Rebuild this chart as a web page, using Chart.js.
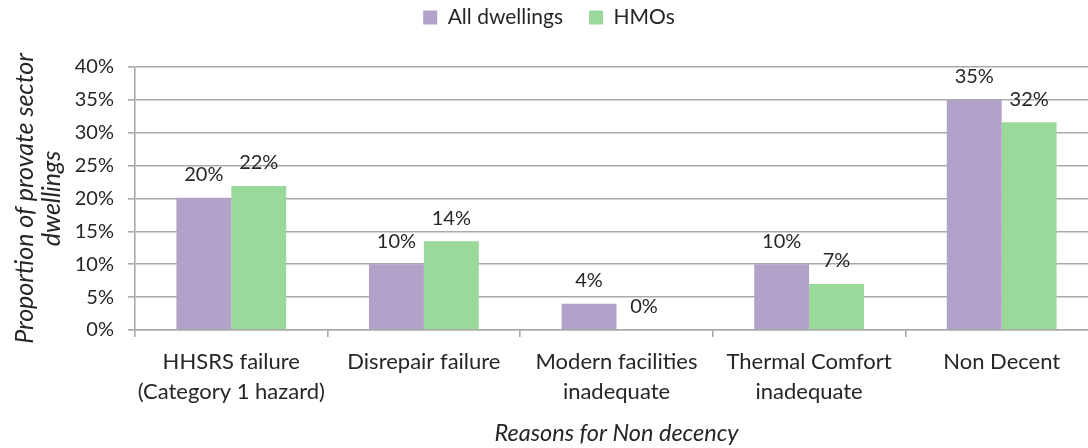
<!DOCTYPE html>
<html><head><meta charset="utf-8">
<script src="https://cdn.jsdelivr.net/npm/chart.js@4/dist/chart.umd.min.js"></script>
<style>html,body{margin:0;padding:0;overflow:hidden;background:#fff}#wrap{width:1098px;height:448px;position:relative}</style>
</head><body><div id="wrap"><canvas id="c"></canvas></div>
<script>
const categories = [["HHSRS failure","(Category 1 hazard)"],"Disrepair failure",["Modern facilities","inadequate"],["Thermal Comfort","inadequate"],"Non Decent"];
const allDwellings = [20.1, 10.0, 4.0, 10.0, 35.0];
const hmos = [21.9, 13.5, 0, 7.0, 31.6];
const seriesNames = ["All dwellings","HMOs"];
const yMin = 0, yMax = 40, yStep = 5;
const yTitle = ["Proportion of provate sector","dwellings"];
const xTitle = "Reasons for Non decency";

const FONT = 'Lato';
const TXT = '#262626';
const GRID = '#a9a9a9';

const barLabels = {
  id:'barLabels',
  afterDatasetsDraw(chart){
    const ctx = chart.ctx; ctx.save();
    ctx.font = '20px ' + FONT; ctx.fillStyle = TXT; ctx.textAlign='center'; ctx.textBaseline='middle';
    chart.data.datasets.forEach((ds,i)=>{
      chart.getDatasetMeta(i).data.forEach((bar,j)=>{
        ctx.fillText(Math.round(ds.data[j]) + '%', bar.x, bar.y - 23);
      });
    });
    ctx.restore();
  }
};
const legendBox = {
  id:'legendBox',
  beforeInit(chart){
    const orig = chart.legend.fit;
    chart.legend.fit = function(){ orig.bind(this)(); this.height = 67; };
  },
  afterLayout(chart){ chart.legend.top = -19; }
};

new Chart(document.getElementById('c'), {
  type:'bar',
  data:{ labels:categories, datasets:[
    {label:seriesNames[0], data:allDwellings, backgroundColor:'#b2a1c8', borderWidth:0},
    {label:seriesNames[1], data:hmos, backgroundColor:'#9bd99b', borderWidth:0}
  ]},
  options:{
    responsive:true, maintainAspectRatio:false, animation:false,
    layout:{padding:0},
    datasets:{bar:{categoryPercentage:0.57, barPercentage:1}},
    plugins:{
      legend:{ position:'top', align:'center',
        labels:{ font:{family:FONT,size:21}, color:TXT, boxWidth:14, boxHeight:14, padding:26 } },
      tooltip:{enabled:false}
    },
    scales:{
      x:{
        offset:true,
        grid:{ drawOnChartArea:false, drawTicks:true, tickLength:7, color:GRID, lineWidth:1.6 },
        border:{ display:true, color:GRID, width:1.6 },
        ticks:{ font:{family:FONT,size:22, lineHeight:1.36}, color:TXT, padding:10, maxRotation:0, autoSkip:false },
        title:{ display:true, text:xTitle, font:{family:FONT,size:23.5,style:'italic', lineHeight:1.2}, color:TXT, padding:{top:0,bottom:0} },
        afterFit(s){ s.height = 118; }
      },
      y:{
        min:yMin, max:yMax,
        ticks:{ stepSize:yStep, font:{family:FONT,size:20}, color:TXT, padding:14, callback:v=>v+'%' },
        grid:{ color:GRID, lineWidth:1.6, tickLength:7, drawTicks:true },
        border:{ display:true, color:GRID, width:1.6 },
        title:{ display:true, text:yTitle, font:{family:FONT,size:25,style:'italic', lineHeight:1.1}, color:TXT, padding:{top:11,bottom:0} },
        afterFit(s){ s.width = 135; }
      }
    }
  },
  plugins:[barLabels, legendBox]
});
</script></body></html>
